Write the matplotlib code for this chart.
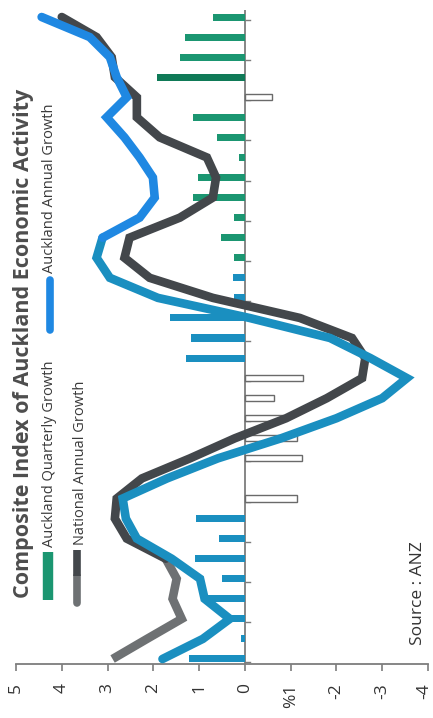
import matplotlib
matplotlib.use("Agg")
import matplotlib.pyplot as plt
import matplotlib.transforms as mtransforms
import numpy as np
from matplotlib.lines import Line2D

plt.rcParams['font.family'] = ['Open Sans', 'DejaVu Sans']

# Quarterly series, earliest first (drawn bottom to top, chart turned on its side)
quarterly_growth = [1.22, 0.09, 0.33, 0.80, 0.49, 1.08, 0.57, 1.07, -1.14, 0.0,
                    -1.24, -1.13, -0.83, -0.63, -1.26, 1.28, 1.17, 1.64, 0.24, 0.26,
                    0.24, 0.53, 0.24, 1.14, 1.03, 0.13, 0.62, 1.14, -0.60, 1.93,
                    1.41, 1.31, 0.70]
auckland_annual = [1.80, 0.92, 0.33, 0.88, 0.98, 1.60, 2.36, 2.60, 2.67, 1.70,
                   0.59, -0.79, -2.00, -3.00, -3.54, -2.74, -1.86, -0.10, 1.90, 2.95,
                   3.24, 3.11, 2.30, 1.97, 2.01, 2.30, 2.63, 3.02, 2.58, 2.80,
                   2.95, 3.39, 4.44]
national_annual = [2.89, 2.14, 1.38, 1.58, 1.49, 1.73, 2.58, 2.84, 2.80, 2.25,
                   1.20, 0.22, -0.90, -1.79, -2.56, -2.63, -2.34, -1.20, 0.70, 2.08,
                   2.63, 2.52, 1.42, 0.70, 0.63, 0.83, 1.86, 2.36, 2.36, 2.84,
                   2.91, 3.24, 4.00]
value_ticks = [5, 4, 3, 2, 1, 0, -1, -2, -3, -4]
value_tick_labels = ["5", "4", "3", "2", "1", "0", "%1", "-2", "-3", "-4"]

title = "Composite Index of Auckland Economic Activity"
legend_labels = ["Auckland Quarterly Growth", "National Annual Growth", "Auckland Annual Growth"]
source_text = "Source : ANZ"

GREEN = "#1b9671"
DARK_GREEN = "#0f7a57"
BAR_BLUE = "#1a8fc0"
LINE_BLUE = "#1f88e2"
LINE_TEAL = "#1a8fc0"
DARK_GREY = "#43474b"
MID_GREY = "#6e7173"
AXIS_GREY = "#7d7d7d"

W, H = 433, 718
fig = plt.figure(figsize=(W / 100, H / 100), dpi=100)
fig.patch.set_facecolor("white")

ax_left, ax_right, ax_bottom, ax_top = 16, 428, 664, 10
ax = fig.add_axes([ax_left / W, 1 - ax_bottom / H,
                   (ax_right - ax_left) / W, (ax_bottom - ax_top) / H])
n = len(quarterly_growth)
pos = np.arange(n)
ax.set_xlim(5, -4)
ax.set_ylim(-0.25, n - 1 + 0.35)

# bars: colour changes partway up the series
green_from = 20
for i, v in enumerate(quarterly_growth):
    if v == 0:
        continue
    if v < 0:
        ax.barh(i, v, height=0.3, facecolor="white", edgecolor="#6a6a6a",
                linewidth=1.0, zorder=2)
    else:
        c = GREEN if i >= green_from else BAR_BLUE
        if i == 29:
            c = DARK_GREEN
        ax.barh(i, v, height=0.35, color=c, linewidth=0, zorder=2)

# zero line with small tick marks
ax.axvline(0, color=AXIS_GREY, lw=1.3, zorder=1)
for i in range(n - 1, -1, -2):
    ax.plot([0, -0.12], [i - 0.15, i - 0.15], color=AXIS_GREY, lw=1.0, zorder=1)

lw = 6.2
# national annual growth: lighter shade for the earliest points
ax.plot(national_annual[:6], pos[:6], color=MID_GREY, lw=lw,
        solid_joinstyle="miter", solid_capstyle="butt", zorder=3)
ax.plot(national_annual[5:], pos[5:], color=DARK_GREY, lw=lw,
        solid_joinstyle="miter", solid_capstyle="round", zorder=3)
# auckland annual growth
split = 21
ax.plot(auckland_annual[:split + 1], pos[:split + 1], color=LINE_TEAL, lw=lw,
        solid_joinstyle="miter", solid_capstyle="round", zorder=4)
ax.plot(auckland_annual[split:], pos[split:], color=LINE_BLUE, lw=lw,
        solid_joinstyle="miter", solid_capstyle="round", zorder=4)

for s in ["left", "right", "top"]:
    ax.spines[s].set_visible(False)
ax.spines["bottom"].set_color(AXIS_GREY)
ax.spines["bottom"].set_linewidth(1.3)
ax.set_yticks([])
ax.set_xticks(value_ticks)
ax.set_xticklabels(value_tick_labels, rotation=90, fontsize=12.5, color="#333333",
                   va="top", ha="center")
ax.tick_params(axis="x", direction="out", length=5, width=1.2, color=AXIS_GREY, pad=9)
# keep the last label inside the canvas
last = ax.get_xticklabels()[-1]
last.set_transform(last.get_transform() +
                   mtransforms.ScaledTranslation(-4 / 100, 0, fig.dpi_scale_trans))

# rotated title, legend and source
def fx(x):
    return x / W

def fy(y):
    return 1 - y / H

fig.text(fx(24), fy(598), title, rotation=90, fontsize=15.5, fontweight="bold",
         color="#4d4d4d", ha="center", va="bottom")

fig.add_artist(Line2D([fx(48), fx(48)], [fy(600), fy(552)], color=GREEN, lw=7.5,
                      solid_capstyle="butt"))
fig.text(fx(50), fy(547), legend_labels[0], rotation=90, fontsize=10.5,
         color="#3a3a3a", ha="center", va="bottom")

fig.add_artist(Line2D([fx(77), fx(77)], [fy(603), fy(576)], color=MID_GREY, lw=5.5,
                      solid_capstyle="round"))
fig.add_artist(Line2D([fx(77), fx(77)], [fy(576), fy(550)], color=DARK_GREY, lw=5.5,
                      solid_capstyle="butt"))
fig.text(fx(80), fy(545), legend_labels[1], rotation=90, fontsize=10.5,
         color="#3a3a3a", ha="center", va="bottom")

fig.add_artist(Line2D([fx(50), fx(50)], [fy(330), fy(280)], color=LINE_BLUE, lw=5.5,
                      solid_capstyle="round"))
fig.text(fx(50), fy(273), legend_labels[2], rotation=90, fontsize=10.5,
         color="#3a3a3a", ha="center", va="bottom")

fig.text(fx(418), fy(645), source_text, rotation=90, fontsize=12.5,
         color="#333333", ha="center", va="bottom")

fig.savefig("out.png", dpi=100, facecolor="white")
